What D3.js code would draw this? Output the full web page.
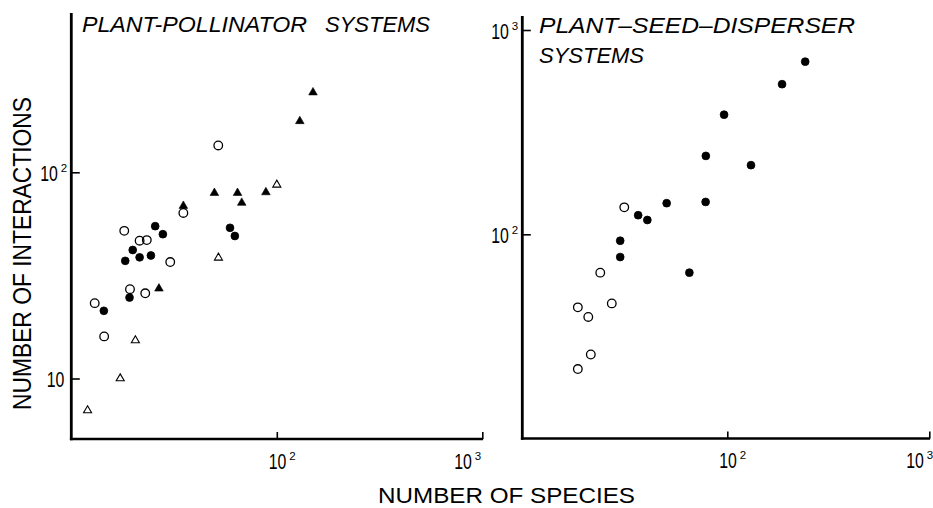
<!DOCTYPE html>
<html>
<head>
<meta charset="utf-8">
<script src="https://cdn.jsdelivr.net/npm/d3@7/dist/d3.min.js"></script>
<style>
  html, body { margin: 0; padding: 0; background: #fff; }
  svg { display: block; }
  text { font-family: "Liberation Sans", "DejaVu Sans", sans-serif; fill: #000; }
</style>
</head>
<body>
<svg id="chart" width="933" height="508"></svg>
<script>
// ---------- data (number of species, number of interactions) ----------
const ppOpenTriangles = [[12, 7], [17.3, 10], [20.5, 15.3], [52, 38.5], [100, 87]];
const ppFilledTriangles = [[26.7, 27.3], [35.1, 68.7], [49.7, 79.4], [64.4, 79.4], [67.5, 71.1], [88.5, 80], [129.4, 177], [150, 244]];
const ppOpenCircles = [[13, 23.2], [14.45, 16], [18.1, 52], [21.5, 46.6], [23.3, 46.9], [19.3, 27.1], [22.9, 25.9], [30.3, 36.7], [35.1, 63.5], [51.9, 135]];
const ppFilledCircles = [[14.4, 21.3], [18.3, 37.2], [19.2, 24.7], [19.9, 42], [21.5, 38.7], [24.4, 39.5], [25.6, 54.8], [27.9, 50.1], [59.2, 53.8], [62.5, 49.1]];

const sdOpenCircles = [[30.9, 135.5], [23.5, 64.9], [26.8, 45.9], [18.2, 43.9], [20.5, 39.4], [21.1, 25.8], [18.2, 21.9]];
const sdFilledCircles = [[29.5, 93], [29.5, 77.4], [36.2, 124], [40.2, 117.5], [50.1, 142], [78.1, 144], [78.3, 242], [64.9, 64.9], [96.4, 385], [131, 218], [186.7, 543], [243, 700]];

const leftXTicks = [100, 1000];
const leftYTicks = [10, 100];
const rightXTicks = [100, 1000];
const rightYTicks = [100, 1000];

const leftTitle = ["PLANT-POLLINATOR", "SYSTEMS"];
const rightTitle = ["PLANT–SEED–DISPERSER", "SYSTEMS"];
const xTitle = "NUMBER OF SPECIES";
const yTitle = "NUMBER OF INTERACTIONS";

// ---------- layout ----------
const svg = d3.select("#chart");

const panels = [
  {
    x: d3.scaleLog().domain([10, 1000]).range([71.3, 482.3]),
    y: d3.scaleLog().domain([10, 100]).range([378.5, 172.3]),
    frame: { left: 71.3, bottom: 439, top: 13, right: 482.3 },
    xTicks: leftXTicks, yTicks: leftYTicks,
    lastXShift: -20,
    series: [
      { data: ppOpenCircles, type: "circle", filled: false },
      { data: ppFilledCircles, type: "circle", filled: true },
      { data: ppOpenTriangles, type: "triangle", filled: false },
      { data: ppFilledTriangles, type: "triangle", filled: true }
    ]
  },
  {
    x: d3.scaleLog().domain([10, 1000]).range([525.3, 929.3]),
    y: d3.scaleLog().domain([100, 1000]).range([234.3, 30]),
    frame: { left: 522.3, bottom: 438.5, top: 16, right: 929.3 },
    xTicks: rightXTicks, yTicks: rightYTicks,
    lastXShift: -15,
    series: [
      { data: sdOpenCircles, type: "circle", filled: false },
      { data: sdFilledCircles, type: "circle", filled: true }
    ]
  }
];

// "10" (horizontally condensed) with a raised exponent
function expLabel(sel, d, x0, y0) {
  const e = Math.round(Math.log10(d));
  sel.append("text")
    .attr("transform", `translate(${x0},${y0}) scale(0.72,1)`)
    .attr("font-size", 22)
    .attr("text-anchor", "start")
    .text("10");
  if (e > 1) {
    sel.append("text")
      .attr("x", x0 + 20.5).attr("y", y0 - 9)
      .attr("font-size", 11.5)
      .attr("text-anchor", "start")
      .text(String(e));
  }
}

panels.forEach(p => {
  const g = svg.append("g");
  const f = p.frame;

  // axis frame lines
  g.append("line").attr("x1", f.left).attr("x2", f.left).attr("y1", f.top).attr("y2", f.bottom + 1.2)
    .attr("stroke", "#000").attr("stroke-width", 2.8);
  g.append("line").attr("x1", f.left - 1.4).attr("x2", f.right + 0.8).attr("y1", f.bottom).attr("y2", f.bottom)
    .attr("stroke", "#000").attr("stroke-width", 2.4);

  // x axis (ticks inward)
  const xAxis = d3.axisBottom(p.x).tickValues(p.xTicks).tickSizeInner(-7).tickSizeOuter(0).tickFormat(() => "");
  const gx = g.append("g").attr("transform", `translate(0,${f.bottom})`).call(xAxis);
  gx.attr("font-size", null).attr("font-family", null).attr("text-anchor", null);
  gx.select(".domain").remove();
  gx.selectAll(".tick line").attr("stroke", "#000").attr("stroke-width", 1.6);
  gx.selectAll(".tick text").remove();
  const nx = p.xTicks.length;
  gx.selectAll(".tick").each(function (d, i) {
    expLabel(d3.select(this), d, -8.5 + (i === nx - 1 ? p.lastXShift : 0), 29.5);
  });

  // y axis (ticks inward)
  const yAxis = d3.axisLeft(p.y).tickValues(p.yTicks).tickSizeInner(-8.5).tickSizeOuter(0).tickFormat(() => "");
  const gy = g.append("g").attr("transform", `translate(${f.left},0)`).call(yAxis);
  gy.attr("font-size", null).attr("font-family", null).attr("text-anchor", null);
  gy.select(".domain").remove();
  gy.selectAll(".tick line").attr("stroke", "#000").attr("stroke-width", 1.6);
  gy.selectAll(".tick text").remove();
  gy.selectAll(".tick").each(function (d) {
    const e = Math.round(Math.log10(d));
    expLabel(d3.select(this), d, e > 1 ? -31 : -24.6, 8);
  });

  // points
  p.series.forEach(s => {
    const sg = g.append("g");
    if (s.type === "circle") {
      sg.selectAll("circle").data(s.data).join("circle")
        .attr("cx", d => p.x(d[0]))
        .attr("cy", d => p.y(d[1]))
        .attr("r", s.filled ? 3.9 : 4.3)
        .attr("fill", s.filled ? "#000" : "none")
        .attr("stroke", "#000")
        .attr("stroke-width", s.filled ? 0.8 : 1.3);
    } else {
      const sym = d3.symbol().type(d3.symbolTriangle).size(s.filled ? 32 : 28);
      sg.selectAll("path").data(s.data).join("path")
        .attr("transform", d => `translate(${p.x(d[0])},${p.y(d[1])})`)
        .attr("d", sym)
        .attr("fill", s.filled ? "#000" : "none")
        .attr("stroke", "#000")
        .attr("stroke-width", s.filled ? 0.6 : 1.1);
    }
  });
});

// ---------- titles ----------
function italicText(x, y, str, len, size) {
  svg.append("text").attr("x", x).attr("y", y)
    .attr("font-size", size).attr("font-style", "italic")
    .attr("textLength", len).attr("lengthAdjust", "spacingAndGlyphs")
    .text(str);
}
italicText(82, 32, leftTitle[0], 225, 22);
italicText(325, 32, leftTitle[1], 105, 22);
italicText(539, 32.5, rightTitle[0], 316, 22);
italicText(539, 62.5, rightTitle[1], 105, 22);

// axis titles
svg.append("text")
  .attr("x", 378).attr("y", 503)
  .attr("font-size", 22)
  .attr("textLength", 257).attr("lengthAdjust", "spacingAndGlyphs")
  .text(xTitle);

svg.append("text")
  .attr("transform", "translate(31,410) rotate(-90)")
  .attr("font-size", 25)
  .attr("textLength", 313).attr("lengthAdjust", "spacingAndGlyphs")
  .text(yTitle);
</script>
</body>
</html>
